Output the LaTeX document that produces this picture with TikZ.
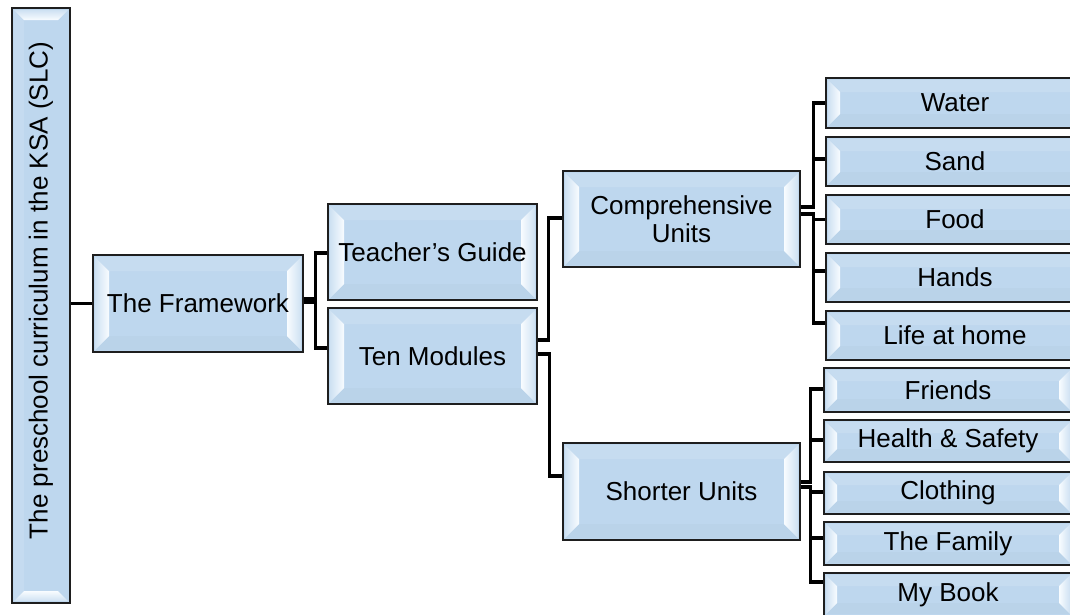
\documentclass[tikz,border=0pt]{standalone}
\usepackage{fontspec}
\setmainfont{Liberation Sans}
\usetikzlibrary{calc}
\definecolor{boxblue}{RGB}{190,215,238}
\definecolor{bevlight}{RGB}{248,252,255}
\definecolor{boxline}{RGB}{30,30,30}
\tikzset{
  box/.style={draw=boxline, line width=1.5pt, fill=boxblue, inner sep=0pt,
    align=center, font=\fontsize{26}{27.5}\selectfont},
  hbevel/.style={path picture={
    \fill[boxblue!88!white] let \p1=(path picture bounding box.north west),
      \p2=(path picture bounding box.south east) in
      (\x1+2pt,\y1-2pt) -- (\x2-2pt,\y1-2pt) -- (\x2-#1,\y1-#1) -- (\x1+#1,\y1-#1) -- cycle;
    \fill[boxblue!98!black] let \p1=(path picture bounding box.north west),
      \p2=(path picture bounding box.south east) in
      (\x1+2pt,\y2+2pt) -- (\x2-2pt,\y2+2pt) -- (\x2-#1,\y2+#1) -- (\x1+#1,\y2+#1) -- cycle;
    \fill[left color=boxblue!75!white, right color=bevlight] let \p1=(path picture bounding box.north west),
      \p2=(path picture bounding box.south east) in
      (\x1+2pt,\y1-2pt) -- (\x1+#1,\y1-#1) -- (\x1+#1,\y2+#1) -- (\x1+2pt,\y2+2pt) -- cycle;
    \fill[left color=bevlight, right color=boxblue!75!white] let \p1=(path picture bounding box.north west),
      \p2=(path picture bounding box.south east) in
      (\x2-2pt,\y1-2pt) -- (\x2-#1,\y1-#1) -- (\x2-#1,\y2+#1) -- (\x2-2pt,\y2+2pt) -- cycle;
  }},
  vbevel/.style={path picture={
    \fill[boxblue!90!white] let \p1=(path picture bounding box.north west),
      \p2=(path picture bounding box.south east) in
      (\x1+2pt,\y1-2pt) -- (\x1+#1,\y1-#1) -- (\x1+#1,\y2+#1) -- (\x1+2pt,\y2+2pt) -- cycle;
    \fill[bottom color=bevlight, top color=boxblue!75!white] let \p1=(path picture bounding box.north west),
      \p2=(path picture bounding box.south east) in
      (\x1+2pt,\y1-2pt) -- (\x2-2pt,\y1-2pt) -- (\x2-#1,\y1-#1) -- (\x1+#1,\y1-#1) -- cycle;
    \fill[top color=bevlight, bottom color=boxblue!75!white] let \p1=(path picture bounding box.north west),
      \p2=(path picture bounding box.south east) in
      (\x1+2pt,\y2+2pt) -- (\x2-2pt,\y2+2pt) -- (\x2-#1,\y2+#1) -- (\x1+#1,\y2+#1) -- cycle;
  }},
  conn/.style={draw=black, line width=3.4pt},
  txt/.style={font=\fontsize{26}{27.5}\selectfont, inner sep=0pt},
}
\begin{document}
\begin{tikzpicture}[x=1pt,y=-1pt]
\clip (0,0) rectangle (1070,614);
\fill[white] (0,0) rectangle (1070,614);
% level 0
\node[box, vbevel=12pt, minimum width=58pt, minimum height=595pt] (root) at (41,305.5) {};
\node[txt, rotate=90] (roottext) at ($(root.center)+(0,-15)$) {The preschool curriculum in the KSA (SLC)};
% level 1
\node[box, hbevel=16pt, minimum width=210pt, minimum height=97pt] (fw) at (198,303.5) {The Framework};
% level 2
\node[box, hbevel=16pt, minimum width=209pt, minimum height=96pt] (tg) at (432.5,252) {Teacher’s Guide};
\node[box, hbevel=16pt, minimum width=209pt, minimum height=96pt] (tm) at (432.5,356) {Ten Modules};
% level 3
\node[box, hbevel=16pt, minimum width=237pt, minimum height=96pt] (cu) at (681.5,219) {Comprehensive\\Units};
\node[box, hbevel=16pt, minimum width=237pt, minimum height=97pt] (su) at (681.5,491.5) {Shorter Units};
% level 4 (comprehensive)
\node[box, hbevel=14pt, minimum width=258pt, minimum height=50pt] (water) at (955,103) {Water};
\node[box, hbevel=14pt, minimum width=258pt, minimum height=49pt] (sand) at (955,161.5) {Sand};
\node[box, hbevel=14pt, minimum width=258pt, minimum height=49pt] (food) at (955,219.5) {Food};
\node[box, hbevel=14pt, minimum width=258pt, minimum height=49pt] (hands) at (955,277.5) {Hands};
\node[box, hbevel=14pt, minimum width=258pt, minimum height=49pt] (life) at (955,335.5) {Life at home};
% level 4 (shorter)
\node[box, hbevel=13pt, minimum width=248pt, minimum height=44pt] (friends) at (948,390) {Friends};
\node[box, hbevel=13pt, minimum width=248pt, minimum height=42pt] (health) at (948,441) {Health \& Safety};
\node[box, hbevel=13pt, minimum width=248pt, minimum height=42pt] (clothing) at (948,493) {Clothing};
\node[box, hbevel=13pt, minimum width=248pt, minimum height=43pt] (family) at (948,543.5) {The Family};
\node[box, hbevel=13pt, minimum width=248pt, minimum height=43pt] (mybook) at (948,594.5) {My Book};
% connectors
\draw[conn] (fw.west) -- (fw.west -| root.east);
\draw[conn] ($(fw.east)+(0,-4.5)$) -- ++(12,0) |- ($(tg.west)+(0,1)$);
\draw[conn] ($(fw.east)+(0,-1.5)$) -- ++(12,0) |- ($(tm.west)+(0,-8)$);
\draw[conn] ($(tm.east)+(0,-16)$) -- ++(11,0) |- ($(cu.west)+(0,-1)$);
\draw[conn] ($(tm.east)+(0,-2)$) -- ++(11.5,0) |- ($(su.west)+(0,-15.5)$);
\draw[conn] ($(cu.east)+(0,-12)$) -- ++(13,0) |- (water.west);
\draw[conn] ($(cu.east)+(0,-12)$) -- ++(13,0) |- ($(sand.west)+(0,-2.5)$);
\draw[conn] ($(cu.east)+(0,-5)$) -- ++(13,0) |- (food.west);
\draw[conn] ($(cu.east)+(0,-5)$) -- ++(13,0) |- ($(hands.west)+(0,-6.5)$);
\draw[conn] ($(cu.east)+(0,-5)$) -- ++(13,0) |- ($(life.west)+(0,-12.5)$);
\draw[conn] ($(su.east)+(0,-9.5)$) -- ++(10,0) |- ($(friends.west)+(0,-1)$);
\draw[conn] ($(su.east)+(0,-9.5)$) -- ++(10,0) |- ($(health.west)+(0,-1)$);
\draw[conn] ($(su.east)+(0,-4.5)$) -- ++(10,0) |- ($(clothing.west)+(0,-1)$);
\draw[conn] ($(su.east)+(0,-4.5)$) -- ++(10,0) |- ($(family.west)+(0,-5.5)$);
\draw[conn] ($(su.east)+(0,-4.5)$) -- ++(10,0) |- ($(mybook.west)+(0,-12.5)$);
\end{tikzpicture}
\end{document}
